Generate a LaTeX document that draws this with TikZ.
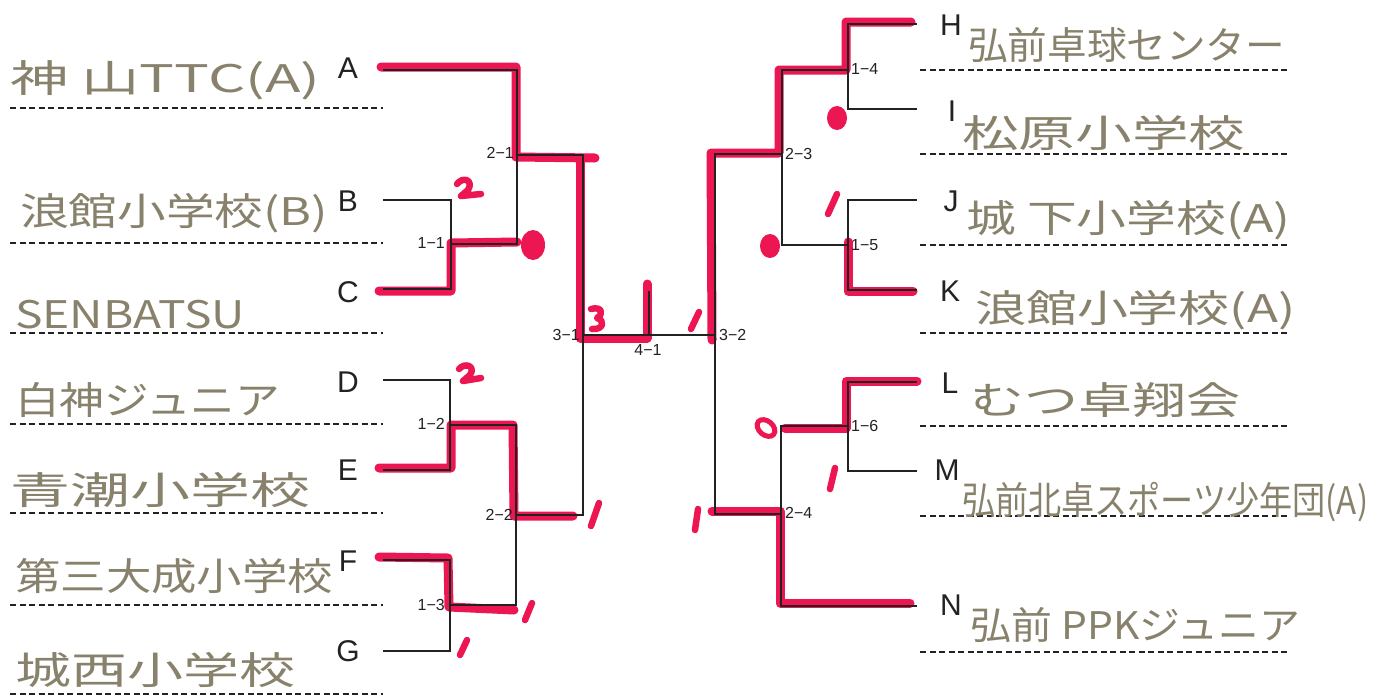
\documentclass[tikz,border=0pt]{standalone}
\usepackage{fontspec}
\setmainfont{Liberation Sans}
\newfontfamily\jp{Noto Sans CJK JP}
\usepackage{graphicx}
\definecolor{ink}{RGB}{34,34,34}
\definecolor{hand}{RGB}{136,130,108}
\definecolor{mk}{RGB}{236,22,82}
\tikzset{
  br/.style={draw=ink, line width=1.6pt},
  mkline/.style={draw=mk, line width=9pt, line cap=round, line join=round},
  mkthin/.style={draw=mk, line width=6.5pt, line cap=round, line join=round},
  dashline/.style={draw=ink, line width=1.3pt, dash pattern=on 6pt off 3.5pt},
  teamletter/.style={font=\fontsize{30}{32}\selectfont, text=ink, inner sep=0pt},
  rlabel/.style={font=\fontsize{16}{18}\selectfont, text=ink, inner sep=0pt},
  teamname/.style={anchor=west, inner sep=0pt, text=hand},
}
\newcommand\hw[2]{\resizebox{#1pt}{\height}{\jp\fontsize{38}{40}\selectfont #2}}
\begin{document}
\begin{tikzpicture}[x=1pt,y=-1pt]
\useasboundingbox (0,0) rectangle (1373,697);
\fill[white] (0,0) rectangle (1373,697);

% ---------- coordinates ----------
\coordinate (A) at (383,70);  \coordinate (B) at (383,200); \coordinate (C) at (383,289);
\coordinate (D) at (383,380); \coordinate (E) at (383,470); \coordinate (F) at (383,560);
\coordinate (G) at (383,651);
\coordinate (m11) at (451,244); \coordinate (m12) at (450,425); \coordinate (m13) at (450,605);
\coordinate (m21) at (517,155); \coordinate (m22) at (516,515); \coordinate (m31) at (583,335);
\coordinate (H) at (917,24);  \coordinate (I) at (917,109); \coordinate (J) at (917,200);
\coordinate (K) at (917,290); \coordinate (L) at (917,382); \coordinate (M) at (917,471);
\coordinate (N) at (917,606);
\coordinate (m14) at (848,70); \coordinate (m15) at (848,245); \coordinate (m16) at (848,426);
\coordinate (m23) at (782,154); \coordinate (m24) at (781,514); \coordinate (m32) at (715,335);
\coordinate (m41) at (649,335); \coordinate (t41) at (649,291);

% ---------- red marker ----------
\draw[mkline] (381,67) -- (516,67) -- (516,157) -- (595,158);
\draw[mkline] (580,158) -- (580,338) -- (647,338) -- (647,284);
\draw[mkline] (379,291) -- (451,291) -- (451,243) -- (517,242);
\fill[mk] (533,245) ellipse [x radius=12, y radius=15];
\draw[mkline] (379,468) -- (451,468) -- (451,425) -- (513,425) -- (514,516) -- (573,516);
\draw[mkline] (379,557) -- (448,558) -- (449,607) -- (514,610);
\draw[mkline] (911,22) -- (846,22) -- (846,70) -- (779,70) -- (779,153) -- (711,153) -- (712,340);
\draw[mkline] (913,291) -- (848,291) -- (848,242);
\draw[mkline] (917,381) -- (846,381) -- (846,428) -- (785,428);
\draw[mkline] (712,511) -- (780,511) -- (780,603) -- (910,603);
% score marks
\draw[mkthin] (457,184) .. controls (463,176) and (474,180) .. (468,190) -- (461,196) -- (481,194);
\draw[mkthin] (459,369) .. controls (465,362) and (476,366) .. (470,375) -- (463,381) -- (481,378);
\draw[mkthin] (591,309) .. controls (602,306) and (604,314) .. (597,318) .. controls (605,320) and (604,330) .. (592,329);
\draw[mkthin] (591,526) -- (599,503);
\draw[mkthin] (525,620) -- (532,603);
\draw[mkthin] (460,655) -- (467,640);
\draw[mkthin] (691,329) -- (699,312);
\draw[mkthin] (828,214) -- (837,194);
\draw[mkthin] (830,489) -- (835,468);
\draw[mkthin] (695,530) -- (698,509);
\fill[mk] (837,118) ellipse [x radius=10, y radius=12];
\fill[mk] (770,246) ellipse [x radius=10, y radius=12];
\draw[mk, line width=5pt, rotate around={-40:(766,428)}] (766,428) ellipse [x radius=10, y radius=7];

% ---------- bracket ----------
\draw[br] (A) -| (m21);  \draw[br] (m11) -| (m21);
\draw[br] (B) -| (m11);  \draw[br] (C) -| (m11);
\draw[br] (D) -| (m12);  \draw[br] (E) -| (m12);
\draw[br] (F) -| (m13);  \draw[br] (G) -| (m13);
\draw[br] (m12) -| (m22); \draw[br] (m13) -| (m22);
\draw[br] (m21) -| (m31); \draw[br] (m22) -| (m31);
\draw[br] (m31) -- (m32); \draw[br] (m41) -- (t41);
\draw[br] (H) -| (m14);  \draw[br] (I) -| (m14);
\draw[br] (J) -| (m15);  \draw[br] (K) -| (m15);
\draw[br] (L) -| (m16);  \draw[br] (M) -| (m16);
\draw[br] (m14) -| (m23); \draw[br] (m15) -| (m23);
\draw[br] (m16) -| (m24); \draw[br] (N) -| (m24);
\draw[br] (m23) -| (m32); \draw[br] (m24) -| (m32);

% ---------- match labels ----------
\node[rlabel, anchor=east] (l21) at (514,153) {2−1};
\node[rlabel, anchor=east] (l11) at (445,243) {1−1};
\node[rlabel, anchor=east] (l31) at (580,335) {3−1};
\node[rlabel] (l41) at (648,350) {4−1};
\node[rlabel, anchor=west] (l32) at (719,335) {3−2};
\node[rlabel, anchor=east] (l12) at (445,424) {1−2};
\node[rlabel, anchor=east] (l22) at (513,515) {2−2};
\node[rlabel, anchor=east] (l13) at (445,605) {1−3};
\node[rlabel, anchor=west] (l14) at (851,69) {1−4};
\node[rlabel, anchor=west] (l23) at (785,154) {2−3};
\node[rlabel, anchor=west] (l15) at (851,245) {1−5};
\node[rlabel, anchor=west] (l16) at (851,426) {1−6};
\node[rlabel, anchor=west] (l24) at (785,513) {2−4};

% ---------- letters ----------
\node[teamletter] (tA) at (348,68) {A};
\node[teamletter] (tB) at (348,201) {B};
\node[teamletter] (tC) at (348,292) {C};
\node[teamletter] (tD) at (348,382) {D};
\node[teamletter] (tE) at (348,470) {E};
\node[teamletter] (tF) at (348,561) {F};
\node[teamletter] (tG) at (348,651) {G};
\node[teamletter] (tH) at (951,25) {H};
\node[teamletter] (tI) at (952,111) {I};
\node[teamletter] (tJ) at (951,201) {J};
\node[teamletter] (tK) at (950,291) {K};
\node[teamletter] (tL) at (950,383) {L};
\node[teamletter] (tM) at (947,470) {M};
\node[teamletter] (tN) at (951,605) {N};

% ---------- dashed lines ----------
\foreach \y/\n in {108/a,243/b,333/c,424/d,513/e,605/f,694/g} {
  \coordinate (dl\n) at (10,\y); \coordinate (dr\n) at (383,\y);
  \draw[dashline] (dl\n) -- (dr\n);
}
\foreach \y/\n in {70/h,154/i,245/j,333/k,426/l,516/m,652/n} {
  \coordinate (el\n) at (920,\y); \coordinate (er\n) at (1288,\y);
  \draw[dashline] (el\n) -- (er\n);
}

% ---------- team names ----------
\node[teamname] (nA) at (10,80) {\hw{310}{神 山TTC(A)}};
\node[teamname] (nB) at (20,213) {\hw{308}{浪館小学校(B)}};
\node[teamname] (nC) at (15,315) {\hw{230}{SENBATSU}};
\node[teamname] (nD) at (15,400) {\hw{265}{白神ジュニア}};
\node[teamname] (nE) at (10,490) {\hw{300}{青潮小学校}};
\node[teamname] (nF) at (15,576) {\hw{318}{第三大成小学校}};
\node[teamname] (nG) at (15,670) {\hw{280}{城西小学校}};
\node[teamname] (nH) at (968,45) {\hw{317}{弘前卓球センター}};
\node[teamname] (nI) at (962,133) {\hw{283}{松原小学校}};
\node[teamname] (nJ) at (966,220) {\hw{324}{城 下小学校(A)}};
\node[teamname] (nK) at (975,310) {\hw{320}{浪館小学校(A)}};
\node[teamname] (nL) at (970,400) {\hw{270}{むつ卓翔会}};
\node[teamname] (nM) at (962,502) {\hw{406}{弘前北卓スポーツ少年団(A)}};
\node[teamname] (nN) at (970,625) {\hw{330}{弘前 PPKジュニア}};
\end{tikzpicture}
\end{document}
